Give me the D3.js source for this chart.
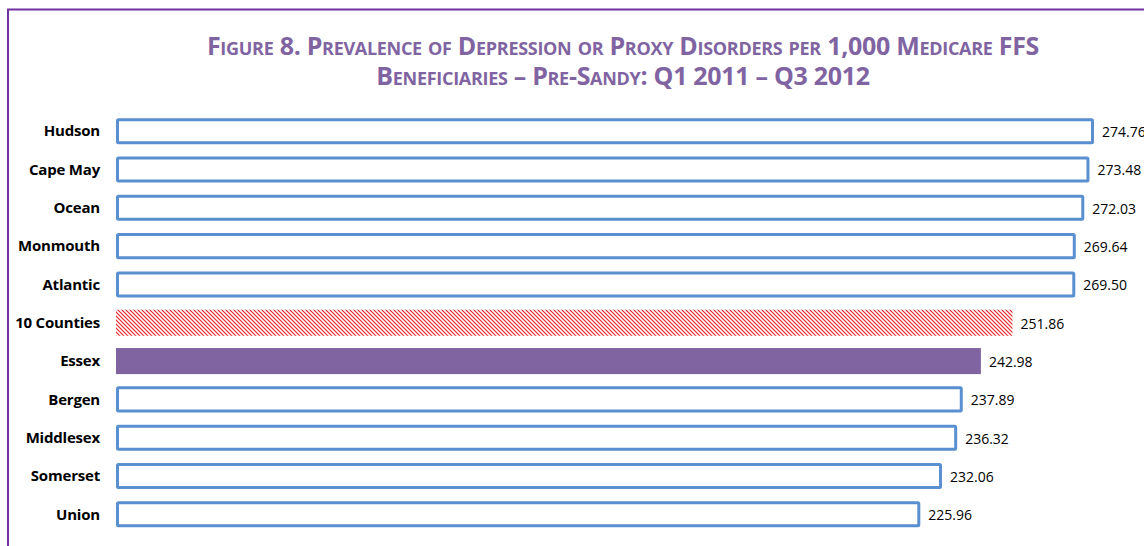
<!DOCTYPE html>
<html>
<head>
<meta charset="utf-8">
<script src="https://cdn.jsdelivr.net/npm/d3@7"></script>
<style>
  body { margin: 0; background: #fff; }
  svg { display: block; }
</style>
</head>
<body>
<div id="chart"></div>
<script>
// County prevalence values (per 1,000 Medicare FFS beneficiaries)
const counties = ["Hudson", "Cape May", "Ocean", "Monmouth", "Atlantic", "10 Counties",
                  "Essex", "Bergen", "Middlesex", "Somerset", "Union"];
const values = [274.76, 273.48, 272.03, 269.64, 269.50, 251.86, 242.98, 237.89, 236.32, 232.06, 225.96];
const valueLabels = ["274.76", "273.48", "272.03", "269.64", "269.50", "251.86",
                     "242.98", "237.89", "236.32", "232.06", "225.96"];
const titleLines = [
    "Figure 8. Prevalence of Depression or Proxy Disorders per 1,000 Medicare FFS",
    "Beneficiaries – Pre-Sandy: Q1 2011 – Q3 2012"
];

const W = 1144, H = 546;
const data = counties.map((c, i) => ({county: c, value: values[i], label: valueLabels[i]}));

const svg = d3.select("#chart").append("svg")
    .attr("width", W)
    .attr("height", H);

// hatch pattern for the 10-county average bar
const defs = svg.append("defs");
const pat = defs.append("pattern")
    .attr("id", "hatch")
    .attr("patternUnits", "userSpaceOnUse")
    .attr("width", 4)
    .attr("height", 4);
pat.append("rect").attr("width", 4).attr("height", 4).attr("fill", "#fff");
pat.append("path")
    .attr("d", "M-1,-1 L5,5 M-1,3 L1,5 M3,-1 L5,1")
    .attr("stroke", "#e3242b")
    .attr("stroke-width", 1.2);

// outer frame
svg.append("rect")
    .attr("x", 8)
    .attr("y", 9.5)
    .attr("width", W + 20)
    .attr("height", H + 20)
    .attr("fill", "none")
    .attr("stroke", "#7030a0")
    .attr("stroke-width", 2);

// title
const title = svg.append("text")
    .attr("text-anchor", "middle")
    .attr("fill", "#8064a2")
    .style("font-family", "'Open Sans', sans-serif")
    .style("font-weight", "bold")
    .style("font-size", "25px")
    .style("letter-spacing", "-0.3px")
    .style("font-variant", "small-caps");
title.selectAll("tspan")
    .data(titleLines)
    .enter()
    .append("tspan")
    .attr("x", 623)
    .attr("y", (d, i) => 55 + i * 30)
    .text(d => d);

const x = d3.scaleLinear()
    .domain([0, 300])
    .range([116, 116 + 300 * 3.5595]);

const y = d3.scaleBand()
    .domain(counties)
    .range([112, 533.5])
    .paddingInner(0.32)
    .paddingOuter(0.16);

const bars = svg.selectAll(".bar")
    .data(data)
    .enter()
    .append("rect")
    .attr("class", "bar");

bars.each(function(d) {
    const r = d3.select(this);
    if (d.county === "10 Counties") {
        r.attr("x", x(0))
            .attr("y", y(d.county))
            .attr("width", x(d.value) - x(0))
            .attr("height", y.bandwidth())
            .attr("fill", "url(#hatch)");
    } else if (d.county === "Essex") {
        r.attr("x", x(0))
            .attr("y", y(d.county))
            .attr("width", x(d.value) - x(0))
            .attr("height", y.bandwidth())
            .attr("fill", "#8064a2");
    } else {
        r.attr("x", x(0) + 1.5)
            .attr("y", y(d.county) + 1.5)
            .attr("width", x(d.value) - x(0) - 3)
            .attr("height", y.bandwidth() - 3)
            .attr("fill", "#fff")
            .attr("stroke", "#5a8fd0")
            .attr("stroke-width", 3)
            .attr("rx", 1);
    }
});

// category labels
svg.selectAll(".cat")
    .data(data)
    .enter()
    .append("text")
    .attr("class", "cat")
    .attr("x", 100)
    .attr("y", d => y(d.county) + y.bandwidth() / 2)
    .attr("dy", "0.35em")
    .attr("text-anchor", "end")
    .style("font-family", "'Open Sans', sans-serif")
    .style("font-weight", "bold")
    .style("font-size", "15px")
    .style("letter-spacing", "-0.2px")
    .attr("fill", "#000")
    .text(d => d.county);

// value labels
svg.selectAll(".val")
    .data(data)
    .enter()
    .append("text")
    .attr("class", "val")
    .attr("x", d => x(d.value) + 8)
    .attr("y", d => y(d.county) + y.bandwidth() / 2 + 1)
    .attr("dy", "0.35em")
    .style("font-family", "'Open Sans', sans-serif")
    .style("font-size", "14px")
    .attr("fill", "#000")
    .text(d => d.label);
</script>
</body>
</html>
